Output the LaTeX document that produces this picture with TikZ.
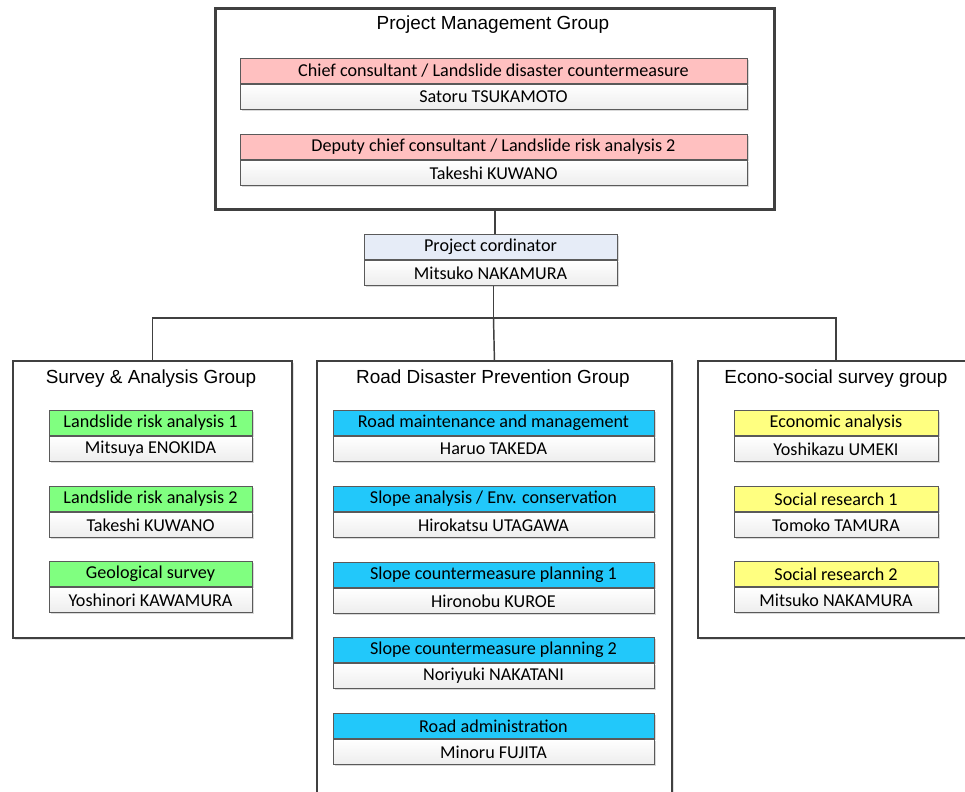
\documentclass[tikz,border=0pt]{standalone}
\usepackage{fontspec}
\setmainfont{Carlito}
\newfontfamily\titlefont{Liberation Sans}
\usetikzlibrary{shadows}

\definecolor{linegray}{HTML}{404040}
\definecolor{boxgray}{HTML}{5A5A5A}
\definecolor{pinkhdr}{HTML}{FFC0C0}
\definecolor{greenhdr}{HTML}{80FF80}
\definecolor{bluehdr}{HTML}{22C8FA}
\definecolor{yellowhdr}{HTML}{FFFF80}
\definecolor{paleblue}{HTML}{E6ECF7}

\tikzset{
  rolebar/.style={draw=boxgray, line width=0.7pt, minimum height=18.75pt,
    inner sep=0pt, font=\fontsize{13.6}{15}\selectfont,
    drop shadow={shadow xshift=1.5pt, shadow yshift=-1.5pt, fill=black, opacity=0.15}},
  namebar/.style={rolebar, top color=white, bottom color=gray!14},
  groupbox/.style={draw=linegray, fill=white, line width=1.4pt, inner sep=0pt,
    drop shadow={shadow xshift=1.5pt, shadow yshift=-1.5pt, fill=black, opacity=0.12}},
  grouptitle/.style={font=\titlefont\fontsize{14.2}{16}\selectfont, inner sep=0pt},
  conn/.style={draw=linegray, line width=1.1pt},
}

% one role: name, x centre, y top, width (px), header colour, role, person
\newcommand\rolepair[7]{%
  \node[rolebar, fill=#5, minimum width={#4*0.75pt}, anchor=north] (#1h) at (#2,#3) {#6};
  \node[namebar, minimum width={#4*0.75pt}, anchor=north] (#1n) at (#1h.south) {#7};
}

\begin{document}
\begin{tikzpicture}[x=0.75pt, y=-0.75pt]
\clip (0,0) rectangle (965,792);
\fill[white] (0,0) rectangle (965,792);

% group frames
\node[groupbox, line width=1.9pt, draw=linegray, minimum width={559*0.75pt}, minimum height={201*0.75pt}, anchor=north west] (pm) at (214,7) {};
\node[groupbox, minimum width={279*0.75pt}, minimum height={277*0.75pt}, anchor=north west] (sag) at (12,360) {};
\node[groupbox, minimum width={355*0.75pt}, minimum height={460*0.75pt}, anchor=north west] (rdp) at (316,360) {};
\node[groupbox, minimum width={290*0.75pt}, minimum height={277*0.75pt}, anchor=north west] (esg) at (697,360) {};

% group titles
\node[grouptitle] (pmt) at (493,25) {Project Management Group};
\node[grouptitle] (sagt) at (151,379) {Survey \& Analysis Group};
\node[grouptitle] (rdpt) at (493,379) {Road Disaster Prevention Group};
\node[grouptitle] (esgt) at (836,379) {Econo-social survey group};

% project management
\rolepair{chief}{493.5}{58}{507}{pinkhdr}{Chief consultant / Landslide disaster countermeasure}{Satoru TSUKAMOTO}
\rolepair{deputy}{493.5}{134}{507}{pinkhdr}{Deputy chief consultant / Landslide risk analysis 2}{Takeshi KUWANO}

% coordinator
\rolepair{coord}{490.5}{234}{253}{paleblue}{Project cordinator}{Mitsuko NAKAMURA}

% survey & analysis
\rolepair{sa1}{150.5}{410}{203}{greenhdr}{Landslide risk analysis 1}{Mitsuya ENOKIDA}
\rolepair{sa2}{150.5}{486}{203}{greenhdr}{Landslide risk analysis 2}{Takeshi KUWANO}
\rolepair{sa3}{150.5}{561}{203}{greenhdr}{Geological survey}{Yoshinori KAWAMURA}

% road disaster prevention
\rolepair{rd1}{493.5}{410}{321}{bluehdr}{Road maintenance and management}{Haruo TAKEDA}
\rolepair{rd2}{493.5}{486}{321}{bluehdr}{Slope analysis / Env. conservation}{Hirokatsu UTAGAWA}
\rolepair{rd3}{493.5}{562}{321}{bluehdr}{Slope countermeasure planning 1}{Hironobu KUROE}
\rolepair{rd4}{493.5}{637}{321}{bluehdr}{Slope countermeasure planning 2}{Noriyuki NAKATANI}
\rolepair{rd5}{493.5}{713}{321}{bluehdr}{Road administration}{Minoru FUJITA}

% econo-social survey
\rolepair{es1}{836}{410}{204}{yellowhdr}{Economic analysis}{Yoshikazu UMEKI}
\rolepair{es2}{836}{486}{204}{yellowhdr}{Social research 1}{Tomoko TAMURA}
\rolepair{es3}{836}{561}{204}{yellowhdr}{Social research 2}{Mitsuko NAKAMURA}

% connectors
\coordinate (bus) at (493.5,318);
\coordinate (esgtop) at (836,360);
\draw[conn] (pm.south) -- (coordh.north -| pm.south);
\draw[conn] (coordn.south -| bus) -- (bus);
\draw[conn] (sag.north) |- (bus) -| (esgtop);
\draw[conn] (bus) -- (rdp.north);
\end{tikzpicture}
\end{document}
